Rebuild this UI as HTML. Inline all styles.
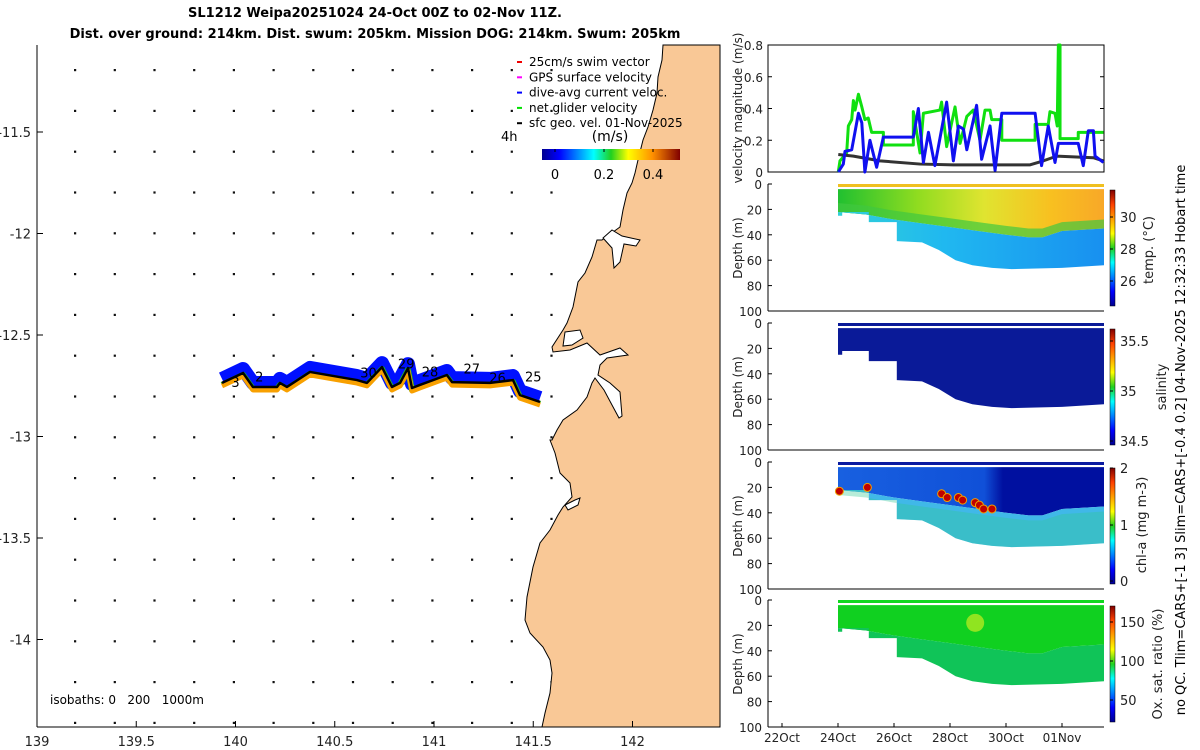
<!DOCTYPE html>
<html><head><meta charset="utf-8">
<style>
body{margin:0;background:#fff;width:1200px;height:750px;overflow:hidden}
svg{display:block;font-family:"DejaVu Sans","Liberation Sans",sans-serif}
</style></head><body>
<svg id="fig" width="1200" height="750" viewBox="0 0 1200 750">
<defs>
<linearGradient id="jetV" x1="0" y1="1" x2="0" y2="0">
<stop offset="0" stop-color="#00008f"/><stop offset="0.125" stop-color="#0000ff"/><stop offset="0.375" stop-color="#00ffff"/><stop offset="0.5" stop-color="#20d020"/><stop offset="0.625" stop-color="#ffff00"/><stop offset="0.875" stop-color="#ff4000"/><stop offset="1" stop-color="#800000"/></linearGradient>
<linearGradient id="jetH" x1="0" y1="0" x2="1" y2="0">
<stop offset="0" stop-color="#00008f"/><stop offset="0.125" stop-color="#0000ff"/><stop offset="0.375" stop-color="#00ffff"/><stop offset="0.5" stop-color="#20d020"/><stop offset="0.625" stop-color="#ffff00"/><stop offset="0.8" stop-color="#ff9000"/><stop offset="1" stop-color="#800000"/></linearGradient>
<linearGradient id="tempUp" x1="838" y1="0" x2="1104" y2="0" gradientUnits="userSpaceOnUse">
<stop offset="0" stop-color="#20c030"/><stop offset="0.3" stop-color="#90dc20"/><stop offset="0.55" stop-color="#e0e430"/><stop offset="0.8" stop-color="#f8c020"/><stop offset="1" stop-color="#f8a828"/></linearGradient>
<linearGradient id="tempLo" x1="838" y1="0" x2="1104" y2="0" gradientUnits="userSpaceOnUse">
<stop offset="0" stop-color="#30d0d8"/><stop offset="0.4" stop-color="#20b8f0"/><stop offset="1" stop-color="#1890f0"/></linearGradient>
<linearGradient id="chlUp" x1="838" y1="0" x2="1104" y2="0" gradientUnits="userSpaceOnUse">
<stop offset="0" stop-color="#1860e0"/><stop offset="0.55" stop-color="#1050d8"/><stop offset="0.62" stop-color="#0010a0"/><stop offset="1" stop-color="#0010a0"/></linearGradient>
</defs>
<g id="title" font-weight="bold" font-size="13" text-anchor="middle">
<text x="375" y="17">SL1212 Weipa20251024 24-Oct 00Z to 02-Nov 11Z.</text>
<text x="375" y="38">Dist. over ground: 214km. Dist. swum: 205km. Mission DOG: 214km. Swum: 205km</text>
</g>
<g id="map"></g>
<g id="vel"></g>
<g id="sec"></g>
<text transform="translate(1185,440) rotate(-90)" font-size="13" text-anchor="middle">no QC. Tlim=CARS+[-1 3] Slim=CARS+[-0.4 0.2] 04-Nov-2025 12:32:33 Hobart time</text>
</svg>
<script>
// ---------- data ----------
const trackLon=[139.932,140.038,140.088,140.209,140.224,140.259,140.375,140.612,140.662,140.738,140.788,140.829,140.869,140.889,140.929,141.065,141.091,141.282,141.398,141.433,141.534];
const trackLat=[-12.736,-12.687,-12.756,-12.756,-12.736,-12.756,-12.682,-12.722,-12.736,-12.658,-12.756,-12.736,-12.663,-12.761,-12.746,-12.697,-12.732,-12.736,-12.722,-12.796,-12.830];
const dayLabels=["3","2","30","29","28","27","26","25"];
const dayLabelLon=[140.0,140.12,140.67,140.86,140.98,141.19,141.32,141.50];
const dayLabelLat=[-12.755,-12.73,-12.71,-12.665,-12.705,-12.69,-12.735,-12.73];
const lonTicks=[139,139.5,140,140.5,141,141.5,142];
const latTicks=[-11.5,-12,-12.5,-13,-13.5,-14];
// velocity (t = days since 22-Oct 00Z)
const greenT=[2.01,2.07,2.31,2.37,2.49,2.55,2.61,2.73,2.85,2.96,3.08,3.20,3.62,3.62,4.69,4.69,4.93,5.05,5.64,5.70,5.88,6.18,6.36,6.60,6.83,7.07,7.25,7.43,7.49,7.85,7.85,9.04,9.04,9.51,9.57,9.75,9.83,9.87,9.93,9.93,10.58,10.58,11.48];
const greenV=[0,0.07,0.12,0.29,0.33,0.45,0.39,0.49,0.41,0.33,0.34,0.25,0.25,0.17,0.17,0.38,0.12,0.37,0.39,0.44,0.16,0.41,0.18,0.35,0.39,0.2,0.39,0.39,0.33,0.33,0.2,0.2,0.3,0.3,0.38,0.37,0.29,0.8,0.8,0.21,0.21,0.25,0.25];
const blueT=[2.01,2.19,2.25,2.49,2.73,2.85,2.96,3.14,3.38,3.62,4.69,4.87,5.05,5.23,5.46,5.88,6.12,6.30,6.48,6.60,6.95,7.13,7.43,7.61,7.85,9.04,9.27,9.51,9.75,9.87,10.58,10.76,10.94,11.12,11.18,11.48];
const blueV=[0,0.05,0.13,0.14,0.37,0.31,0,0.2,0.03,0.22,0.22,0.4,0.06,0.25,0.04,0.44,0.07,0.29,0.27,0.14,0.42,0.08,0.29,0.01,0.37,0.37,0.04,0.29,0.06,0.18,0.18,0.04,0.26,0.26,0.1,0.06];
const geoT=[2.01,2.55,3.50,4.93,6.12,8.86,9.33,9.81,11.12,11.48];
const geoV=[0.11,0.10,0.07,0.05,0.045,0.045,0.07,0.10,0.09,0.07];
const velTicks=[0,0.2,0.4,0.6,0.8];
// sections
const bathT=[2.0,2.15,2.15,3.1,3.1,4.1,4.1,5.0,5.6,6.2,6.8,7.5,8.2,10.0,11.5];
const bathD=[25,25,22,22,30,30,45,46,52,60,64,66,67,66,64];
const thermT=[2,3,4,5,6,7,8,8.8,9.3,10,11.5];
const thermD=[22,24,28,31,34,37,40,42,42,37,35];
const chlBlobT=[2.05,3.05,5.7,5.9,6.3,6.45,6.9,7.05,7.2,7.5];
const chlBlobD=[23,20,25,28,28,30,32,34,37,37];
const depthTicks=[0,20,40,60,80,100];
const dateTicks=["22Oct","24Oct","26Oct","28Oct","30Oct","01Nov"];
const dateTickT=[0,2,4,6,8,10];
// ---------- helpers ----------
const NS="http://www.w3.org/2000/svg";
function mk(tag,parent,attrs){const e=document.createElementNS(NS,tag);for(const k in attrs)e.setAttribute(k,attrs[k]);parent.appendChild(e);return e;}
const lonX=lon=>37+(lon-139)*198.5;
const latY=lat=>132+(-11.5-lat)*203;
const tX=t=>782+t*28;
const vY=v=>172-v/0.8*127;
// ---------- map ----------
const map=document.getElementById('map');
for(let i=0;i<17;i++)for(let j=0;j<13;j++){
  const d=mk('rect',map,{x:74+j*39.7,y:69+i*40.8,width:2.2,height:2.2,fill:'#111'});
  
  
}
const coast=[[663,45],[662,60],[658,77],[657,93],[653,110],[648,127],[643,140],[638,160],[635,173],[632,183],[627,193],[623,210],[620,227],[602,240],[597,240],[592,257],[585,273],[578,282],[573,307],[567,323],[563,330],[552,347],[553,352],[570,350],[587,343],[600,355],[620,348],[628,355],[607,358],[600,365],[598,375],[610,383],[620,392],[622,416],[619,418],[612,405],[604,390],[595,378],[592,383],[587,397],[577,410],[563,420],[557,430],[552,440],[550,440],[555,453],[560,473],[570,483],[572,497],[563,507],[558,515],[550,530],[540,543],[533,567],[527,597],[525,620],[530,633],[543,647],[550,660],[552,673],[550,693],[545,713],[542,727]];
const land=mk('polygon',map,{points:coast.map(p=>p.join(',')).join(' ')+' 720,727 720,45',fill:'#f9c896',stroke:'#000','stroke-width':1});


const inlets=[[[603,238],[612,230],[622,236],[640,240],[636,246],[624,244],[620,262],[614,268],[612,248]],[[565,332],[580,330],[583,338],[572,345],[563,346]],[[565,505],[575,500],[580,498],[578,505],[568,510]]];
inlets.forEach(p=>{const e=mk('polygon',map,{points:p.map(q=>q.join(',')).join(' '),fill:'#fff',stroke:'#000','stroke-width':1});
});
mk('line',map,{x1:37,y1:45,x2:37,y2:727,stroke:'#000'});
mk('line',map,{x1:37,y1:727,x2:720,y2:727,stroke:'#000'});
lonTicks.forEach(v=>{const x=lonX(v);mk('line',map,{x1:x,y1:727,x2:x,y2:721,stroke:'#000'});
 const t=mk('text',map,{x:x,y:746,'font-size':13,'text-anchor':'middle',fill:'#222'});t.textContent=v;
 });
latTicks.forEach(v=>{const y=latY(v);mk('line',map,{x1:37,y1:y,x2:43,y2:y,stroke:'#000'});
 const t=mk('text',map,{x:31,y:y+5,'font-size':13,'text-anchor':'end',fill:'#222'});t.textContent=v;
 });
const tp=trackLon.map((l,i)=>[lonX(l),latY(trackLat[i])]);
const ps=(pts,dy)=>pts.map(p=>p[0]+','+(p[1]+dy)).join(' ');
const tb=mk('polyline',map,{points:ps(tp,-4),fill:'none',stroke:'#0010ff','stroke-width':14,'stroke-linejoin':'round'});

mk('polyline',map,{points:ps(tp,2),fill:'none',stroke:'#20c020','stroke-width':6,'stroke-linejoin':'round'});
mk('polyline',map,{points:ps(tp,3),fill:'none',stroke:'#f8a000','stroke-width':5,'stroke-linejoin':'round'});
const tk=mk('polyline',map,{points:ps(tp,0),fill:'none',stroke:'#000','stroke-width':2.5,'stroke-linejoin':'round'});

dayLabels.forEach((s,i)=>{const t=mk('text',map,{x:lonX(dayLabelLon[i]),y:latY(dayLabelLat[i]),'font-size':13,'text-anchor':'middle'});t.textContent=s;
 });
const leg=["25cm/s swim vector","GPS surface velocity","dive-avg current veloc.","net glider velocity","sfc geo. vel. 01-Nov-2025"];
const legC=["#f00000","#ff00ff","#0000ff","#00e000","#000"];
leg.forEach((s,i)=>{const y=66+i*15.3;mk('line',map,{x1:517,y1:y-4,x2:522,y2:y-4,stroke:legC[i],'stroke-width':2});
 const t=mk('text',map,{x:529,y:y,'font-size':12});t.textContent=s;
 });
let t4=mk('text',map,{x:501,y:141,'font-size':13});t4.textContent='4h';
t4=mk('text',map,{x:610,y:141,'font-size':14,'text-anchor':'middle'});t4.textContent='(m/s)';
const cbh=mk('rect',map,{x:542,y:149,width:138,height:11,fill:'url(#jetH)'});

[[555,'0'],[604,'0.2'],[653,'0.4']].forEach(a=>{mk('line',map,{x1:a[0],y1:149,x2:a[0],y2:152,stroke:'#000'});const t=mk('text',map,{x:a[0],y:179,'font-size':13,'text-anchor':'middle'});t.textContent=a[1];});
const iso=mk('text',map,{x:50,y:704,'font-size':12,style:'white-space:pre'});iso.textContent='isobaths: 0   200   1000m';

// ---------- velocity panel ----------
const vel=document.getElementById('vel');
mk('rect',vel,{x:768,y:45,width:336,height:127,fill:'none',stroke:'#000'});
velTicks.forEach(v=>{const y=vY(v);mk('line',vel,{x1:768,y1:y,x2:772,y2:y,stroke:'#000'});mk('line',vel,{x1:1104,y1:y,x2:1100,y2:y,stroke:'#000'});
 const t=mk('text',vel,{x:763,y:y+5,'font-size':12,'text-anchor':'end',fill:'#222'});t.textContent=v;});
const vl=mk('text',vel,{transform:'translate(742,108) rotate(-90)','font-size':12,'text-anchor':'middle',fill:'#222'});vl.textContent='velocity magnitude (m/s)';

function series(T,V,col,w,name){const l=mk('polyline',vel,{points:T.map((t,i)=>tX(t)+','+vY(V[i])).join(' '),fill:'none',stroke:col,'stroke-width':w,'stroke-linejoin':'round'});
 }
series(greenT,greenV,'#10e010',3,'net-glider-velocity-line');
series(geoT,geoV,'#333',3,'geostrophic-velocity-line');
series(blueT,blueV,'#1010f0',3,'dive-avg-current-line');
// ---------- sections ----------
const sec=document.getElementById('sec');
const tops=[184,323,462,600];
const names=['temperature','salinity','chlorophyll','oxygen'];
function region(top,T1,D1,T2,D2){
  let p=T1.map((t,i)=>tX(t)+','+(top+D1[i]*1.27));
  for(let i=T2.length-1;i>=0;i--)p.push(tX(T2[i])+','+(top+D2[i]*1.27));
  return p.join(' ');}
const t0=[2,11.5],d4=[4,4];
tops.forEach((top,k)=>{
  const g=mk('g',sec,{});
  
  const sc=['#f0c020','#0a1a98','#0a1aa0','#10d820'][k];
  mk('rect',g,{x:tX(2),y:top,width:tX(11.5)-tX(2),height:3,fill:sc});
  if(k===0){
    mk('polygon',g,{points:region(top,t0,d4,thermT,thermD),fill:'url(#tempUp)'});
    mk('polygon',g,{points:region(top,thermT,thermD.map(d=>d-7),thermT,thermD),fill:'#40c840',opacity:0.7});
    mk('polygon',g,{points:region(top,thermT,thermD,bathT,bathD),fill:'url(#tempLo)'});
  } else if(k===1){
    mk('polygon',g,{points:region(top,t0,d4,bathT,bathD),fill:'#0a1a98'});
  } else if(k===2){
    mk('polygon',g,{points:region(top,t0,d4,thermT,thermD),fill:'url(#chlUp)'});
    mk('polygon',g,{points:region(top,thermT,thermD,bathT,bathD),fill:'#40b8e8'});
    mk('polygon',g,{points:region(top,thermT,thermD.map(d=>d+4),bathT,bathD),fill:'#30c890',opacity:0.35});
    chlBlobT.forEach((t,i)=>{const c=mk('circle',g,{cx:tX(t),cy:top+chlBlobD[i]*1.27,r:4,fill:'#c00000',stroke:'#f0a000','stroke-width':1});
      });
  } else {
    mk('polygon',g,{points:region(top,t0,d4,thermT,thermD),fill:'#10d020'});
    mk('polygon',g,{points:region(top,thermT,thermD,bathT,bathD),fill:'#10c458'});
    mk('circle',g,{cx:tX(6.9),cy:top+18*1.27,r:9,fill:'#b0e820',opacity:0.8});
  }
  mk('line',g,{x1:768,y1:top,x2:768,y2:top+127,stroke:'#000'});
  mk('line',g,{x1:768,y1:top+127,x2:1104,y2:top+127,stroke:'#000'});
  depthTicks.forEach(d=>{const y=top+d*1.27;mk('line',g,{x1:768,y1:y,x2:772,y2:y,stroke:'#000'});
    const t=mk('text',g,{x:762,y:y+5,'font-size':12,'text-anchor':'end',fill:'#222'});t.textContent=d;});
  const dl=mk('text',g,{transform:`translate(742,${top+64}) rotate(-90)`,'font-size':12,'text-anchor':'middle',fill:'#222'});dl.textContent='Depth (m)';
  
  const cb=mk('rect',g,{x:1110,y:top+6,width:5,height:116,fill:'url(#jetV)',stroke:'#000','stroke-width':0.5});
  
});
const cbl=[[[217,'30'],[249,'28'],[281,'26']],[[341,'35.5'],[391,'35'],[441,'34.5']],[[468,'2'],[525,'1'],[581,'0']],[[622,'150'],[661,'100'],[700,'50']]];
cbl.forEach(a=>a.forEach(b=>{mk('line',sec,{x1:1110,y1:b[0],x2:1113,y2:b[0],stroke:'#000'});const t=mk('text',sec,{x:1120,y:b[0]+5,'font-size':13,fill:'#222'});t.textContent=b[1];}));
[['temp. (°C)',1153,250],['salinity',1166,387],['chl-a (mg m-3)',1146,525],['Ox. sat. ratio (%)',1162,664]].forEach(a=>{
  const t=mk('text',sec,{transform:`translate(${a[1]},${a[2]}) rotate(-90)`,'font-size':13,'text-anchor':'middle',fill:'#222'});t.textContent=a[0];
  });
dateTicks.forEach((s,i)=>{const x=tX(dateTickT[i]);mk('line',sec,{x1:x,y1:727,x2:x,y2:723,stroke:'#000'});
  const t=mk('text',sec,{x:x,y:742,'font-size':12,'text-anchor':'middle',fill:'#222'});t.textContent=s;
  });
</script>
</body></html>
